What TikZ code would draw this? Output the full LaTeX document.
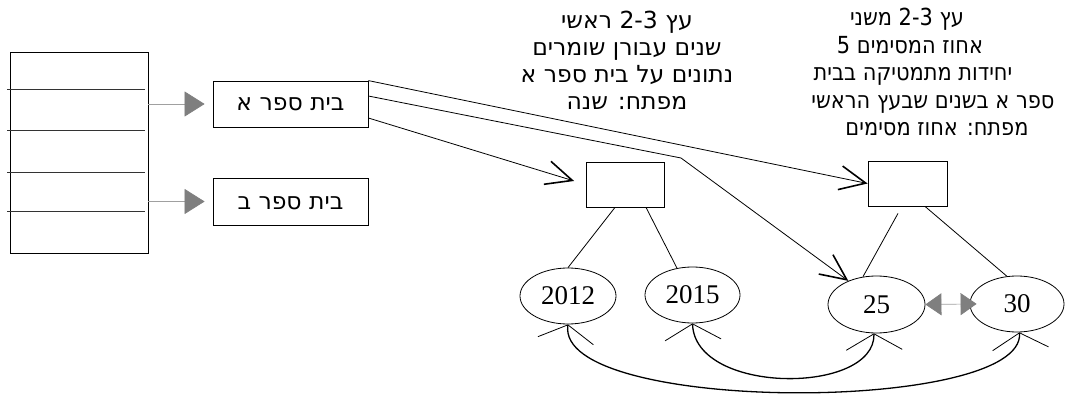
\documentclass[tikz,border=0pt]{standalone}
\usepackage{fontspec}
\setmainfont{Liberation Serif}
\newfontfamily\heb[Script=Hebrew]{DejaVu Sans}
\newfontfamily\hebc[Script=Hebrew,FakeStretch=0.89]{DejaVu Sans}
\TeXXeTstate=1
\usetikzlibrary{arrows.meta,shapes.geometric}
\definecolor{headgray}{HTML}{7F7F7F}
\definecolor{linegray}{HTML}{A0A0A0}
\begin{document}
\begin{tikzpicture}[x=1pt,y=-1pt,
  box/.style={draw, line width=0.8pt, inner sep=0pt},
  htext/.style={font=\heb\fontsize{23.5}{26}\selectfont, anchor=base, inner sep=0pt},
  htextc/.style={font=\hebc\fontsize{23.5}{26}\selectfont, anchor=base, inner sep=0pt},
  oval/.style={ellipse, draw, line width=0.8pt, inner sep=0pt, font=\fontsize{27}{30}\selectfont},
  link/.style={line width=0.8pt},
  openarrow/.style={-{Straight Barb[length=26pt,width=24pt,line width=1.6pt]}},
  tline/.style={line width=0.8pt, draw=black!80},
  graya/.style={draw=linegray, line width=0.7pt, -{Triangle[length=20pt,width=25pt,color=headgray]}},
  curvea/.style={line width=1.3pt, {Straight Barb[length=16pt,width=56pt,line width=0.8pt]}-{Straight Barb[length=16pt,width=56pt,line width=0.8pt]}}
]
\useasboundingbox (0,0) rectangle (1065,398);

% hash table
\node[box, minimum width=138pt, minimum height=201pt] (tbl) at (79,152.5) {};
\draw[tline] (7,89) -- (145,89);
\draw[tline] (7,130) -- (145,130);
\draw[tline] (7,172) -- (145,172);
\draw[tline] (7,211) -- (145,211);

% school boxes
\node[box, minimum width=155pt, minimum height=46pt] (boxA) at (290.5,104) {};
\node[htext] (lblA) at (290.5,111) {\beginR בית ספר א\endR};
\node[box, minimum width=155pt, minimum height=47pt] (boxB) at (290.5,201.5) {};
\node[htext] (lblB) at (290.5,209) {\beginR בית ספר ב\endR};

% tree nodes
\node[box, minimum width=78pt, minimum height=45pt] (n1) at (625,184.5) {};
\node[box, minimum width=79pt, minimum height=45pt] (n2) at (907.5,183.5) {};

\node[oval, minimum width=96pt, minimum height=56pt] (e2012) at (568,296) {2012};
\node[oval, minimum width=95pt, minimum height=56pt] (e2015) at (692.5,295) {2015};
\node[oval, minimum width=97pt, minimum height=57pt] (e25) at (876.5,304.5) {25};
\node[oval, minimum width=94pt, minimum height=56pt] (e30) at (1017,304) {30};

% texts
\node[htext] (t11) at (627,29) {\beginR עץ \beginL 2-3\endL{} ראשי\endR};
\node[htext] (t12) at (627,56) {\beginR שנים עבורן שומרים\endR};
\node[htext] (t13) at (627,83) {\beginR נתונים על בית ספר א\endR};
\node[htext] (t14) at (627,110) {\beginR מפתח: שנה\endR};

\node[htextc] (t21) at (907,26) {\beginR עץ \beginL 2-3\endL{} משני\endR};
\node[htextc] (t22) at (910,54) {\beginR אחוז המסימים \beginL 5\endL\endR};
\node[htextc] (t23) at (913,81) {\beginR יחידות מתמטיקה בבית\endR};
\node[htextc] (t24) at (933,109) {\beginR ספר א בשנים שבעץ הראשי\endR};
\node[htextc] (t25) at (937,136) {\beginR מפתח: אחוז מסימים\endR};

% gray arrows
\draw[graya, shorten >=8pt] (tbl.east |- boxA.west) -- (boxA.west);
\draw[graya, shorten >=8pt] (tbl.east |- boxB.west) -- (boxB.west);
\draw[draw=linegray, line width=0.7pt, {Triangle[length=16pt,width=22pt,color=headgray]}-{Triangle[length=16pt,width=22pt,color=headgray]}, shorten >=-7pt] (e25.east) -- (e30.west);

% pointers from school A
\coordinate (bend) at (681,158);
\draw[link,openarrow] (boxA.north east) -- (n2.west);
\draw[link,openarrow] ([yshift=8pt]boxA.east) -- (bend) -- (e25.140);
\draw[link,openarrow,shorten >=12pt] ([yshift=-14pt]boxA.east) -- (n1.west);

% tree edges
\draw[link] ([xshift=-10pt]n1.south) -- (e2012.north);
\draw[link] ([xshift=21pt]n1.south) -- (e2015.120);
\draw[link] ([xshift=-9.5pt,yshift=-7pt]n2.south) -- (e25.116);
\draw[link] ([xshift=17.5pt]n2.south) -- (e30.110);

% leaf links
\draw[curvea] (e2012.south) .. controls (555,414) and (1025,414) .. (e30.275);
\draw[curvea] (e2015.south) .. controls (695,395) and (875,395) .. (e25.265);
\end{tikzpicture}
\end{document}
